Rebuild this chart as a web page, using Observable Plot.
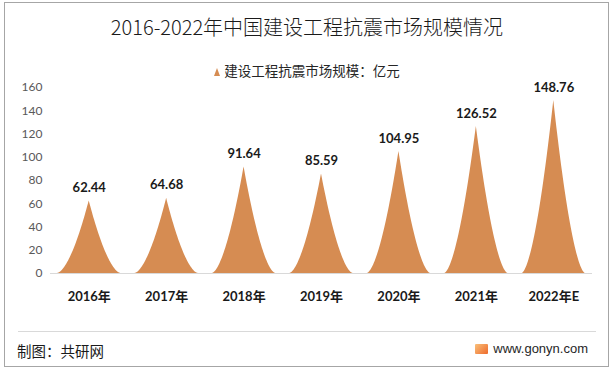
<!DOCTYPE html>
<html><head><meta charset="utf-8">
<script src="https://cdn.jsdelivr.net/npm/d3@7"></script>
<script src="https://cdn.jsdelivr.net/npm/@observablehq/plot@0.6"></script>
<style>
body{margin:0;background:#fff;font-family:Lato,"Noto Sans CJK SC",sans-serif;}
#wrap{position:relative;width:614px;height:371px;overflow:hidden;background:#fff}
#frame{position:absolute;left:4px;top:2px;width:605px;height:365px;border:1px solid #a6a6a6;box-sizing:border-box}
#title{position:absolute;top:13px;left:0;width:614px;text-align:center;font-size:20px;line-height:28px;color:#1a1a1a;font-family:"Noto Sans CJK SC",sans-serif;font-weight:300}
#legend{position:absolute;top:60px;left:0;width:614px;text-align:center;font-size:13.5px;line-height:20px;color:#262626;font-family:"Noto Sans CJK SC",sans-serif}
#legend .tri{display:inline-block;width:0;height:0;border-left:3.5px solid transparent;border-right:3.5px solid transparent;border-bottom:8px solid #D68C52;margin-right:4px;vertical-align:0px}
#chart{position:absolute;left:0;top:80px}
#sep{position:absolute;left:18px;top:331px;width:578px;height:1px;background:#d9d9d9}
#src{position:absolute;left:17px;top:341px;font-size:14.5px;line-height:20px;color:#1a1a1a;font-family:"Noto Sans CJK SC",sans-serif}
#site{position:absolute;right:26px;top:339px;font-size:13px;line-height:20px;color:#262626;font-family:"Liberation Sans",Arial,sans-serif;display:flex;align-items:center}
#site .logo{display:inline-block;width:13px;height:10px;margin-right:5px;background:linear-gradient(135deg,#f9c07a,#ee6a2b);border-radius:1px}
</style></head>
<body>
<div id="wrap">
  <div id="frame"></div>
  <div id="title">2016-2022年中国建设工程抗震市场规模情况</div>
  <div id="legend"><span class="tri"></span>建设工程抗震市场规模：亿元</div>
  <div id="chart"></div>
  <div id="sep"></div>
  <div id="src">制图：共研网</div>
  <div id="site"><span class="logo"></span>www.gonyn.com</div>
</div>
<script>
const years = ["2016年","2017年","2018年","2019年","2020年","2021年","2022年E"];
const values = [62.44,64.68,91.64,85.59,104.95,126.52,148.76];
const yTicks = [0,20,40,60,80,100,120,140,160];
const fillColor = "#D68C52";

// spike outline (shape only), scaled by each value
const halfWidth = 0.41;
const steps = d3.range(-40, 41).map(k => k / 40);
const spikes = values.flatMap((v, i) => steps.map(u => ({
  i, x: i + u * halfWidth, y: v * Math.pow(1 - Math.abs(u), 5 / 3)
})));

const chart = Plot.plot({
  width: 614, height: 240,
  marginLeft: 50, marginRight: 22, marginTop: 7, marginBottom: 47,
  style: {fontFamily: "Lato, 'Noto Sans CJK SC', sans-serif", fontSize: "12px", background: "transparent", overflow: "visible"},
  x: {type: "linear", domain: [-0.5, 6.5], axis: null},
  y: {domain: [0, 160], axis: null},
  marks: [
    Plot.areaY(spikes, {x: "x", y: "y", z: "i", fill: fillColor, curve: "linear"}),
    Plot.ruleY([0], {stroke: "#d9d9d9", strokeWidth: 1}),
    Plot.text(yTicks, {x: -0.5, y: d => d, text: d => String(d), textAnchor: "end", dx: -8, fill: "#595959", fontSize: 12}),
    Plot.text(years, {x: (d, i) => i, y: 0, text: d => d, dy: 23, fontWeight: "bold", fill: "#1a1a1a", fontSize: 13}),
    Plot.text(values, {x: (d, i) => i, y: d => d, text: d => d.toFixed(2), dy: -13, fontWeight: "bold", fill: "#1a1a1a", fontSize: 13})
  ]
});
document.getElementById("chart").appendChild(chart);
</script>
</body></html>
